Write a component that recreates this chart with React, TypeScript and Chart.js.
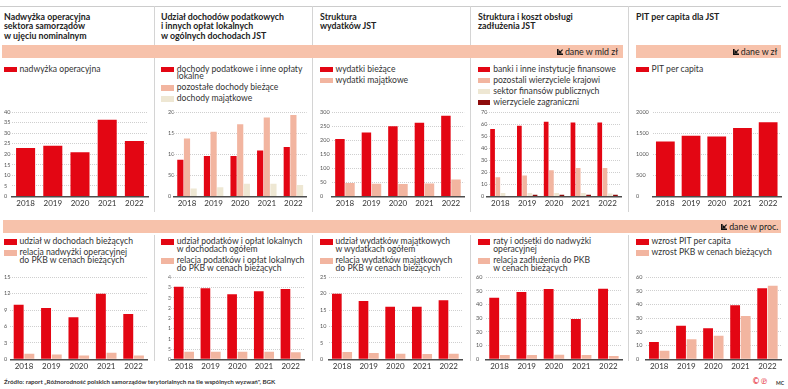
import React, { useEffect, useRef } from 'react';
import { Chart, registerables } from 'chart.js';
Chart.register(...registerables);

// ---------- data ----------
const years = ['2018', '2019', '2020', '2021', '2022'];

const nadwyzkaOperacyjna = [23, 24, 21, 36.3, 26.3];

const dochodyPodatkowe = [87, 96, 96, 109, 117];
const pozostaleDochodyBiezace = [137, 153, 171, 187, 193];
const dochodyMajatkowe = [19, 22, 30, 30, 27];

const wydatkiBiezace = [204, 227, 249, 262, 287];
const wydatkiMajatkowe = [48, 45, 44, 46, 60];

const bankiInstytucje = [56, 58.6, 62, 61.2, 61.2];
const pozostaliWierzyciele = [16, 17.5, 21.7, 23.6, 23.6];
const sektorFinansowPublicznych = [3, 3, 3, 3, 2.5];
const wierzycieleZagraniczni = [0, 1.5, 1.5, 1.5, 1.5];

const pitPerCapita = [1300, 1440, 1420, 1620, 1760];

const udzialWDochodachBiezacych = [10, 9.4, 7.7, 12.0, 8.3];
const relacjaNadwyzkiDoPKB = [1.0, 0.9, 0.7, 1.2, 0.7];

const udzialPodatkowWDochodach = [35.4, 34.6, 31.7, 33.2, 34.3];
const relacjaPodatkowDoPKB = [3.7, 3.7, 3.7, 3.7, 3.4];

const udzialWydatkowMajatkowych = [20, 17.8, 16, 16, 18];
const relacjaWydatkowDoPKB = [2.2, 1.9, 1.7, 1.6, 1.7];

const ratyIOdsetki = [45.1, 49.3, 51.5, 29.5, 51.7];
const relacjaZadluzeniaDoPKB = [3.1, 3.1, 3.4, 3.1, 2.4];

const wzrostPitPerCapita = [12.7, 24.6, 22.7, 39.5, 52];
const wzrostPKB = [6.3, 14.6, 17.3, 31.7, 53.9];

// ---------- styles ----------
const RED = '#e30613';
const SALMON = '#f2b5a0';
const BEIGE = '#eee7d3';
const DARK = '#8e0c0c';
const BAND = '#f7c2ab';
const FONT = 'Lato, "Noto Sans", sans-serif';

type Series = { data: number[]; color: string };
type PanelProps = {
  labelLeft: number; plotLeft: number; plotRight: number; plotTop: number; plotBottom: number;
  max: number; step: number; series: Series[]; cat: number; bar: number;
};

function Panel(p: PanelProps) {
  const ref = useRef<HTMLCanvasElement>(null);
  const ct = Math.floor(p.plotTop - 5);
  const cl = Math.floor(p.labelLeft);
  const cw = Math.ceil(p.plotRight + 2) - cl;
  const ch = Math.ceil(p.plotBottom + 16) - ct;
  useEffect(() => {
    const chart = new Chart(ref.current as HTMLCanvasElement, {
      type: 'bar',
      data: {
        labels: years,
        datasets: p.series.map((s) => ({
          data: s.data,
          backgroundColor: s.color,
          borderWidth: 0,
          barPercentage: p.bar,
          categoryPercentage: p.cat,
        })),
      },
      options: {
        animation: false,
        responsive: false,
        devicePixelRatio: 1,
        layout: { padding: { top: p.plotTop - ct, right: cl + cw - p.plotRight, left: 0, bottom: 0 } },
        plugins: { legend: { display: false }, tooltip: { enabled: false } },
        scales: {
          x: {
            grid: { display: false, drawTicks: false },
            border: { display: true, color: '#4d4d4d', width: 1.6 },
            ticks: { font: { family: FONT, size: 8 }, color: '#333', padding: 2, maxRotation: 0, autoSkip: false },
            afterFit: (s: any) => { s.height = ct + ch - p.plotBottom; },
          },
          y: {
            min: 0,
            max: p.max,
            ticks: {
              stepSize: p.step,
              callback: (v: any) => String(v),
              font: { family: FONT, size: 5.5 },
              color: '#555',
              padding: 0,
              crossAlign: 'far',
              showLabelBackdrop: true,
              backdropColor: '#ffffff',
              backdropPadding: { left: 0, right: 1, top: 0, bottom: 0 },
            },
            grid: { color: '#cfcfcf', drawTicks: false, lineWidth: 1 },
            border: { display: false, dash: [1, 1] },
            afterFit: (s: any) => { s.width = p.plotLeft - cl; },
          },
        },
      } as any,
    });
    return () => chart.destroy();
  }, []);
  return (
    <canvas ref={ref} width={cw} height={ch}
      style={{ position: 'absolute', left: cl, top: ct, width: cw, height: ch }} />
  );
}

type LegendItem = { color: string; lines: string[] };
function Legend({ x, y, items }: { x: number; y: number; items: LegendItem[] }) {
  return (
    <div style={{ position: 'absolute', left: x, top: y, fontFamily: FONT, fontSize: 8.6, color: '#333', lineHeight: '7.7px' }}>
      {items.map((it, i) => (
        <div key={i} style={{ display: 'flex', marginBottom: 3.3 }}>
          <span style={{ width: 12.5, height: 5.7, background: it.color, marginTop: 1, flex: 'none', marginRight: 3 }} />
          <span>{it.lines.map((l, j) => <div key={j} style={{ whiteSpace: 'nowrap' }}>{l}</div>)}</span>
        </div>
      ))}
    </div>
  );
}

function Title({ x, lines }: { x: number; lines: string[] }) {
  return (
    <div style={{ position: 'absolute', left: x, top: 12, fontFamily: FONT, fontWeight: 700, fontSize: 8.8, lineHeight: '9.3px', color: '#222' }}>
      {lines.map((l, i) => <div key={i} style={{ whiteSpace: 'nowrap' }}>{l}</div>)}
    </div>
  );
}

function Icon() {
  return (
    <svg width="6" height="6" viewBox="0 0 6 6" style={{ marginRight: 2 }}>
      <path d="M0 0 H1.6 V4.4 H6 V6 H0 Z" fill="#111" />
      <path d="M5.6 0.6 L2.6 3.6 M2.3 1.6 V3.8 H4.5" stroke="#111" strokeWidth="1.2" fill="none" />
    </svg>
  );
}

function Band({ x, y, w, text, pr }: { x: number; y: number; w: number; text: string; pr: number }) {
  return (
    <div style={{ position: 'absolute', left: x, top: y, width: w, height: 13, background: BAND, display: 'flex', alignItems: 'center', justifyContent: 'flex-end', boxSizing: 'border-box', paddingRight: pr, fontFamily: FONT, fontSize: 8.8, color: '#222' }}>
      <Icon />
      <span style={{ whiteSpace: 'nowrap' }}>{text}</span>
    </div>
  );
}

const vx = [154, 312, 470, 628];

export default function App() {
  const TOP = { plotTop: 112, plotBottom: 196.5 };
  const BOT = { plotTop: 277.3, plotBottom: 359.3 };
  return (
    <div style={{ position: 'absolute', left: 0, top: 0, width: 788, height: 389, background: '#fff', overflow: 'hidden' }}>
      {/* separators */}
      <div style={{ position: 'absolute', left: 0, top: 6, width: 781, height: 1, background: '#cccccc' }} />
      {vx.map((x) => (
        <div key={'t' + x} style={{ position: 'absolute', left: x, top: 6, width: 1, height: 206, background: '#d4d4d4' }} />
      ))}
      {vx.map((x) => (
        <div key={'b' + x} style={{ position: 'absolute', left: x, top: 235, width: 1, height: 126, background: '#d4d4d4' }} />
      ))}

      <Title x={4} lines={['Nadwyżka operacyjna', 'sektora samorządów', 'w ujęciu nominalnym']} />
      <Title x={161} lines={['Udział dochodów podatkowych', 'i innych opłat lokalnych', 'w ogólnych dochodach JST']} />
      <Title x={320} lines={['Struktura', 'wydatków JST']} />
      <Title x={478} lines={['Struktura i koszt obsługi', 'zadłużenia JST']} />
      <Title x={636} lines={['PIT per capita dla JST']} />

      <Band x={2} y={45} w={621} text="dane w mld zł" pr={5} />
      <Band x={636} y={45} w={145} text="dane w zł" pr={3.7} />
      <Band x={3} y={220} w={778} text="dane w proc." pr={2.7} />

      <Legend x={4} y={65.6} items={[{ color: RED, lines: ['nadwyżka operacyjna'] }]} />
      <Legend x={161.3} y={65.6} items={[
        { color: RED, lines: ['dochody podatkowe i inne opłaty', 'lokalne'] },
        { color: SALMON, lines: ['pozostałe dochody bieżące'] },
        { color: BEIGE, lines: ['dochody majątkowe'] },
      ]} />
      <Legend x={320} y={65.6} items={[
        { color: RED, lines: ['wydatki bieżące'] },
        { color: SALMON, lines: ['wydatki majątkowe'] },
      ]} />
      <Legend x={477.7} y={65.6} items={[
        { color: RED, lines: ['banki i inne instytucje finansowe'] },
        { color: SALMON, lines: ['pozostali wierzyciele krajowi'] },
        { color: BEIGE, lines: ['sektor finansów publicznych'] },
        { color: DARK, lines: ['wierzyciele zagraniczni'] },
      ]} />
      <Legend x={636} y={65.6} items={[{ color: RED, lines: ['PIT per capita'] }]} />

      <Legend x={4} y={238.4} items={[
        { color: RED, lines: ['udział w dochodach bieżących'] },
        { color: SALMON, lines: ['relacja nadwyżki operacyjnej', 'do PKB w cenach bieżących'] },
      ]} />
      <Legend x={161.3} y={238.4} items={[
        { color: RED, lines: ['udział podatków i opłat lokalnych', 'w dochodach ogółem'] },
        { color: SALMON, lines: ['relacja podatków i opłat lokalnych', 'do PKB w cenach bieżących'] },
      ]} />
      <Legend x={320} y={238.4} items={[
        { color: RED, lines: ['udział wydatków majątkowych', 'w wydatkach ogółem'] },
        { color: SALMON, lines: ['relacja wydatków majątkowych', 'do PKB w cenach bieżących'] },
      ]} />
      <Legend x={477.7} y={238.4} items={[
        { color: RED, lines: ['raty i odsetki do nadwyżki', 'operacyjnej'] },
        { color: SALMON, lines: ['relacja zadłużenia do PKB', 'w cenach bieżących'] },
      ]} />
      <Legend x={636} y={238.4} items={[
        { color: RED, lines: ['wzrost PIT per capita'] },
        { color: SALMON, lines: ['wzrost PKB w cenach bieżących'] },
      ]} />

      {/* top row charts */}
      <Panel {...TOP} labelLeft={4} plotLeft={12} plotRight={148} max={40} step={5} cat={1} bar={0.7}
        series={[{ data: nadwyzkaOperacyjna, color: RED }]} />
      <Panel {...TOP} labelLeft={168.3} plotLeft={173.7} plotRight={306.7} max={200} step={50} cat={0.75} bar={0.93}
        series={[{ data: dochodyPodatkowe, color: RED }, { data: pozostaleDochodyBiezace, color: SALMON }, { data: dochodyMajatkowe, color: BEIGE }]} />
      <Panel {...TOP} labelLeft={320} plotLeft={331.7} plotRight={464.2} max={300} step={50} cat={0.76} bar={0.94}
        series={[{ data: wydatkiBiezace, color: RED }, { data: wydatkiMajatkowe, color: SALMON }]} />
      <Panel {...TOP} labelLeft={481.7} plotLeft={487} plotRight={621} max={70} step={10} cat={0.78} bar={0.9}
        series={[{ data: bankiInstytucje, color: RED }, { data: pozostaliWierzyciele, color: SALMON }, { data: sektorFinansowPublicznych, color: BEIGE }, { data: wierzycieleZagraniczni, color: DARK }]} />
      <Panel {...TOP} labelLeft={636.5} plotLeft={652.5} plotRight={781} max={2000} step={500} cat={1} bar={0.73}
        series={[{ data: pitPerCapita, color: RED }]} />

      {/* bottom row charts */}
      <Panel {...BOT} labelLeft={4} plotLeft={10.3} plotRight={147.3} max={15} step={3} cat={0.78} bar={0.93}
        series={[{ data: udzialWDochodachBiezacych, color: RED }, { data: relacjaNadwyzkiDoPKB, color: SALMON }]} />
      <Panel {...BOT} labelLeft={168.3} plotLeft={170.6} plotRight={304} max={40} step={5} cat={0.78} bar={0.93}
        series={[{ data: udzialPodatkowWDochodach, color: RED }, { data: relacjaPodatkowDoPKB, color: SALMON }]} />
      <Panel {...BOT} labelLeft={320} plotLeft={328.7} plotRight={462} max={25} step={5} cat={0.78} bar={0.93}
        series={[{ data: udzialWydatkowMajatkowych, color: RED }, { data: relacjaWydatkowDoPKB, color: SALMON }]} />
      <Panel {...BOT} labelLeft={476.7} plotLeft={485.9} plotRight={622} max={60} step={10} cat={0.78} bar={0.93}
        series={[{ data: ratyIOdsetki, color: RED }, { data: relacjaZadluzeniaDoPKB, color: SALMON }]} />
      <Panel {...BOT} labelLeft={636} plotLeft={645.7} plotRight={781} max={60} step={10} cat={0.78} bar={0.93}
        series={[{ data: wzrostPitPerCapita, color: RED }, { data: wzrostPKB, color: SALMON }]} />

      <div style={{ position: 'absolute', left: 4, top: 378.3, fontFamily: FONT, fontWeight: 700, fontSize: 6.2, color: '#333', whiteSpace: 'nowrap' }}>
        Źródło: raport „Różnorodność polskich samorządów terytorialnych na tle wspólnych wyzwań", BGK
      </div>
      <div style={{ position: 'absolute', left: 752, top: 376.5, fontFamily: '"DejaVu Sans", sans-serif', fontSize: 8, color: RED, whiteSpace: 'nowrap' }}>
        ©℗
      </div>
      <div style={{ position: 'absolute', left: 776, top: 379.5, fontFamily: FONT, fontWeight: 700, fontSize: 5, color: '#333' }}>
        MC
      </div>
    </div>
  );
}
